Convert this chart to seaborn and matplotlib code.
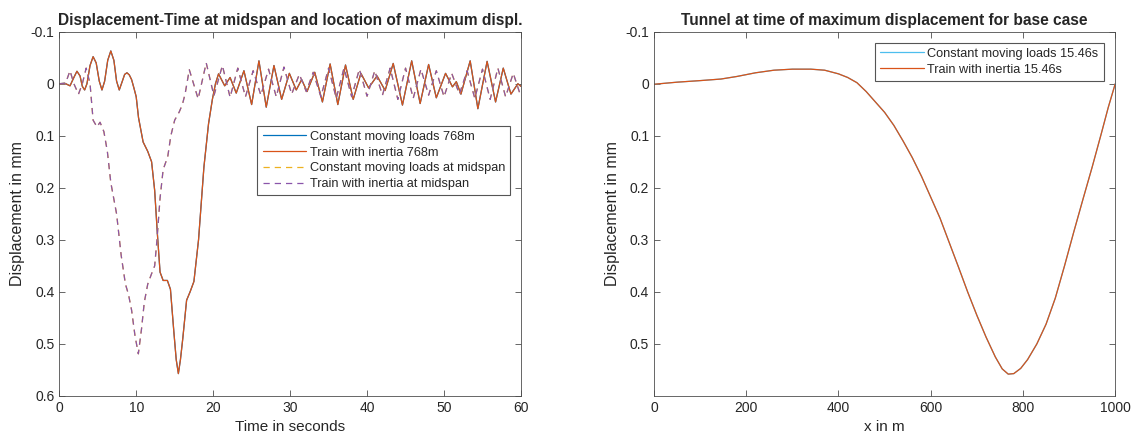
import matplotlib
matplotlib.use("Agg")
import matplotlib.pyplot as plt
import seaborn as sns

sns.set_theme(style="ticks")
plt.rcParams["font.family"] = ["Liberation Sans", "DejaVu Sans"]

# =====================================================
# DATA
# =====================================================

# left panel: displacement at x = 768 m (train with inertia)
t_768 = [0, 0.7, 1.4, 1.9, 2.3, 2.7, 3.0, 3.3, 3.6, 4.0, 4.4, 4.8, 5.2, 5.55,
         5.9, 6.3, 6.7, 7.1, 7.45, 7.8, 8.2, 8.5, 8.8, 9.1, 9.4, 9.7, 10.0,
         10.3, 10.9, 11.5, 12.0, 12.4, 12.75, 13.1, 13.5, 14.05, 14.45, 14.9,
         15.2, 15.48, 15.75, 16.05, 16.55, 17.0, 17.5, 18.1, 18.8, 19.4, 19.9,
         20.3, 20.7, 21.5, 22.2, 23.0, 24.0, 25.0, 25.95, 26.9, 27.9, 28.9,
         29.9, 30.8, 31.5, 32.2, 33.2, 34.2, 35.2, 36.2, 37.2, 38.2, 39.2,
         40.2, 41.3, 42.35, 43.4, 44.6, 45.8, 46.9, 48.0, 49.0, 50.2, 51.1,
         51.6, 52.2, 53.4, 54.4, 55.6, 56.7, 57.7, 58.7, 59.6, 60.0]
inertia_768 = [0, -0.001, 0.004, -0.012, -0.024, -0.015, 0.005, 0.012, 0.0,
               -0.035, -0.052, -0.040, -0.005, 0.012, -0.005, -0.045, -0.063,
               -0.045, -0.005, 0.012, -0.005, -0.018, -0.021, -0.017, -0.008,
               0.008, 0.025, 0.065, 0.112, 0.130, 0.150, 0.205, 0.288, 0.362,
               0.378, 0.378, 0.395, 0.478, 0.530, 0.557, 0.530, 0.490, 0.416,
               0.400, 0.380, 0.300, 0.160, 0.077, 0.030, 0.0,
               -0.019, 0.004, -0.012, 0.018, -0.025, 0.040, -0.044, 0.045,
               -0.035, 0.030, -0.020, 0.012, -0.008, 0.015, -0.022, 0.035,
               -0.038, 0.040, -0.036, 0.030, -0.020, 0.008, -0.015, 0.013,
               -0.039, 0.041, -0.044, 0.038, -0.037, 0.027, -0.020, 0.006,
               -0.004, 0.020, -0.044, 0.048, -0.043, 0.035, -0.030, 0.020,
               0.0, 0.005]
# constant moving loads lies exactly under the inertia curve
const_768 = inertia_768

# left panel: displacement at midspan
t_mid = [0, 0.8, 1.4, 1.9, 2.5, 3.0, 3.5, 4.0, 4.4, 4.9, 5.3, 5.8, 6.25, 6.7,
         7.45, 8.05, 8.6, 9.0, 9.4, 9.85, 10.28, 10.7, 11.05, 11.5, 12.0,
         12.4, 12.7, 13.1, 13.5, 14.1, 14.5, 15.0, 15.6, 16.0, 16.35, 16.9,
         18.05, 19.1, 20.1, 21.2, 22.2, 23.2, 24.2, 25.2, 26.2, 27.2, 28.2,
         29.2, 30.2, 31.2, 32.1, 33.0, 34.0, 35.0, 36.0, 37.0, 38.0, 39.0,
         40.0, 41.0, 42.0, 43.0, 44.0, 45.0, 46.0, 47.0, 48.0, 49.0, 50.0,
         51.0, 52.0, 53.0, 54.0, 55.0, 56.0, 57.0, 58.0, 59.0, 60.0]
inertia_mid = [0, 0, -0.025, 0.0, 0.020, 0.0, -0.030, 0.0, 0.070, 0.083,
               0.074, 0.092, 0.130, 0.190, 0.250, 0.330, 0.385, 0.405, 0.435,
               0.485, 0.519, 0.470, 0.420, 0.385, 0.365, 0.350, 0.300, 0.220,
               0.165, 0.140, 0.100, 0.070, 0.054, 0.040, 0.020, -0.027,
               0.029, -0.040, 0.023, -0.035, 0.026, -0.030, 0.025, -0.025,
               0.022, -0.028, 0.025, -0.032, 0.020, -0.018, 0.015, -0.022,
               0.025, -0.030, 0.028, -0.030, 0.025, -0.028, 0.024, -0.025,
               0.022, -0.030, 0.030, -0.030, 0.028, -0.028, 0.022, -0.025,
               0.025, -0.020, 0.020, -0.025, 0.028, -0.028, 0.030, -0.030,
               0.025, -0.020, 0.025]
const_mid = inertia_mid

# right panel: tunnel shape at t = 15.46 s
x_tunnel = [0, 50, 100, 145, 180, 220, 260, 300, 340, 370, 400, 420, 440,
            460, 480, 500, 520, 540, 560, 580, 600, 620, 640, 660, 680, 700,
            720, 740, 755, 768, 780, 795, 810, 830, 850, 870, 890, 910, 930,
            950, 970, 985, 1000]
inertia_tunnel = [0.001, -0.003, -0.006, -0.009, -0.014, -0.021, -0.026,
                  -0.028, -0.028, -0.026, -0.019, -0.012, -0.002, 0.015,
                  0.035, 0.055, 0.080, 0.110, 0.142, 0.178, 0.218, 0.258,
                  0.305, 0.352, 0.400, 0.445, 0.487, 0.525, 0.548, 0.558,
                  0.557, 0.547, 0.530, 0.500, 0.462, 0.412, 0.350, 0.285,
                  0.222, 0.160, 0.095, 0.045, 0.0]
const_tunnel = inertia_tunnel

y_ticks = [-0.1, 0, 0.1, 0.2, 0.3, 0.4, 0.5, 0.6]
y_labels = ["-0.1", "0", "0.1", "0.2", "0.3", "0.4", "0.5", "0.6"]

BLUE = "#0072BD"
LIGHT_BLUE = "#4DBEEE"
ORANGE = "#D95319"
YELLOW = "#EDB120"
PURPLE = "#8A55AA"
TXT = "#262626"

# =====================================================
# FIGURE
# =====================================================

fig = plt.figure(figsize=(11.35, 4.42), dpi=100)
ax1 = fig.add_axes([0.0522, 0.1041, 0.4068, 0.8242])
ax2 = fig.add_axes([0.5762, 0.1041, 0.4064, 0.8242])

dash = (0, (5, 4))

sns.lineplot(x=t_768, y=const_768, ax=ax1, color=BLUE, lw=0.9,
             estimator=None, sort=False, label="Constant moving loads 768m")
sns.lineplot(x=t_768, y=inertia_768, ax=ax1, color=ORANGE, lw=0.9,
             estimator=None, sort=False, label="Train with inertia 768m")
sns.lineplot(x=t_mid, y=const_mid, ax=ax1, color=YELLOW, lw=0.9,
             estimator=None, sort=False, linestyle=dash,
             label="Constant moving loads at midspan")
sns.lineplot(x=t_mid, y=inertia_mid, ax=ax1, color=PURPLE, lw=0.9,
             estimator=None, sort=False, linestyle=dash,
             label="Train with inertia at midspan")

sns.lineplot(x=x_tunnel, y=const_tunnel, ax=ax2, color=LIGHT_BLUE, lw=0.9,
             estimator=None, sort=False, label="Constant moving loads 15.46s")
sns.lineplot(x=x_tunnel, y=inertia_tunnel, ax=ax2, color=ORANGE, lw=0.9,
             estimator=None, sort=False, label="Train with inertia 15.46s")

for ax in (ax1, ax2):
    ax.set_ylim(0.6, -0.1)
    ax.set_ylabel("Displacement in mm", fontsize=11.5, color=TXT)
    ax.tick_params(direction="in", top=True, right=True, length=4,
                   width=0.6, colors="#4d4d4d", labelsize=10,
                   labelcolor=TXT)
    for sp in ax.spines.values():
        sp.set_linewidth(0.6)
        sp.set_color("#4d4d4d")

ax1.set_xlim(0, 60)
ax1.set_xticks([0, 10, 20, 30, 40, 50, 60])
ax1.set_yticks(y_ticks)
ax1.set_yticklabels(y_labels)
ax1.set_xlabel("Time in seconds", fontsize=11, color=TXT)
ax1.set_title("Displacement-Time at midspan and location of maximum displ.",
              fontsize=11.2, fontweight="bold", pad=5)

ax2.set_xlim(0, 1000)
ax2.set_xticks([0, 200, 400, 600, 800, 1000])
ax2.set_yticks(y_ticks[:-1])
ax2.set_yticklabels(y_labels[:-1])
ax2.set_xlabel("x in m", fontsize=11, color=TXT)
ax2.set_title("Tunnel at time of maximum displacement for base case",
              fontsize=11.2, fontweight="bold", pad=5)

leg_kw = dict(fontsize=9.2, frameon=True, fancybox=False, framealpha=1,
              edgecolor="#555555", handlelength=3.4, handletextpad=0.3,
              borderpad=0.4, labelspacing=0.3, borderaxespad=0)
leg1 = ax1.legend(loc="upper right", bbox_to_anchor=(0.977, 0.742), **leg_kw)
leg2 = ax2.legend(loc="upper right", bbox_to_anchor=(0.975, 0.970), **leg_kw)
for leg in (leg1, leg2):
    leg.get_frame().set_linewidth(0.8)

fig.savefig("out.png", dpi=100)
plt.close(fig)
